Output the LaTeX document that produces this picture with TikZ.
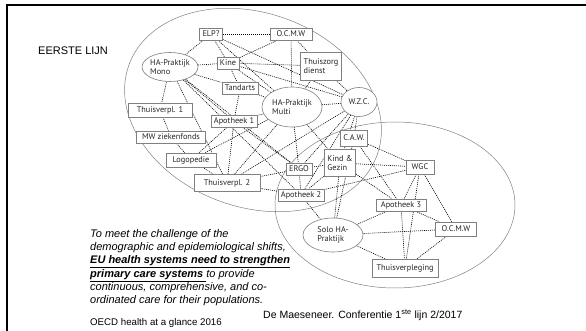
\documentclass[tikz,border=0pt]{standalone}
\usepackage{fontspec}
\setmainfont{Liberation Sans}
\newfontfamily\boxfont{PT Sans}
\usetikzlibrary{shapes.geometric,backgrounds}

\begin{document}
\begin{tikzpicture}[x=1pt, y=-1pt,
        box/.style={rectangle, draw=gray, line width=0.6pt, fill=white, text=black!85, font=\boxfont\fontsize{8.3}{9.5}\selectfont, inner xsep=3pt, inner ysep=2pt, minimum height=12pt},
        oval/.style={ellipse, draw=gray, line width=0.6pt, fill=white, text=black!85, font=\boxfont\fontsize{8.3}{9.5}\selectfont, inner sep=0pt, align=left},
        link/.style={line width=0.6pt, dash pattern=on 1pt off 1pt},
        zone/.style={draw=gray, line width=0.5pt}]
        \useasboundingbox (0,0) rectangle (586,331);
        \draw[line width=2pt] (7,331) -- (7,5) -- (586,5);

        \node[anchor=west, inner sep=0pt, font=\fontsize{11}{13}\selectfont] (title) at (38,51) {EERSTE LIJN};

        \node[box] (1) at (211,34) {ELP?};
        \node[box, minimum width=42pt] (2) at (291,34) {O.C.M.W};
        \node[oval, minimum width=55pt, minimum height=29pt] (3) at (170,67) {HA-Praktijk\\Mono};
        \node[box] (4) at (228,63) {Kine};
        \node[box, align=left, minimum height=28pt] (5) at (321,66) {Thuiszorg\\dienst};
        \node[box] (6) at (240,88) {Tandarts};
        \node[oval, minimum width=60pt, minimum height=40pt] (7) at (292,107) {HA-Praktijk\\Multi};
        \node[oval, minimum width=36pt, minimum height=29pt] (8) at (359,102) {W.Z.C.};
        \node[box, minimum width=64pt, minimum height=14pt] (9) at (160,110) {Thuisverpl. 1};
        \node[box] (10) at (234,121) {Apotheek 1};
        \node[box, minimum width=69pt] (11) at (171,137) {MW ziekenfonds};
        \node[box, minimum width=50pt, minimum height=14pt] (12) at (191,160) {Logopedie};
        \node[box, minimum width=66pt, minimum height=17pt] (13) at (227,183) {Thuisverpl. 2};
        \node[box, minimum height=16pt] (14) at (354,138) {C.A.W.};
        \node[box] (15) at (299,169) {ERGO};
        \node[box, align=left, minimum height=27pt] (16) at (340,163) {Kind \&\\Gezin};
        \node[box] (17) at (301,195) {Apotheek 2};
        \node[box, minimum width=28pt, minimum height=14pt] (18) at (420,167) {WGC};
        \node[box, minimum width=50pt] (19) at (401,205) {Apotheek 3};
        \node[box, minimum width=41pt, minimum height=14pt] (20) at (456,229) {O.C.M.W};
        \node[oval, minimum width=60pt, minimum height=34pt] (21) at (333,235) {Solo HA-\\Praktijk};
        \node[box, minimum width=66pt, minimum height=18pt] (22) at (405,268) {Thuisverpleging};

        \node[anchor=north west, inner sep=0pt, align=left, font=\itshape\fontsize{11}{13.3}\selectfont] (quote) at (90,229)
            {To meet the challenge of the\\
             demographic and epidemiological shifts,\\
             \underline{\textbf{EU health systems need to strengthen}}\\
             \underline{\textbf{primary care systems }}to provide\\
             continuous, comprehensive, and co-\\
             ordinated care for their populations.};
        \node[anchor=west, inner sep=0pt, font=\fontsize{9.7}{12}\selectfont] (source) at (90,323) {OECD health at a glance 2016};
        \node[anchor=west, inner sep=0pt, font=\fontsize{10.5}{12}\selectfont] (credit) at (263,315) {De Maeseneer. Conferentie 1\textsuperscript{ste} lijn 2/2017};

        \begin{pgfonlayer}{background}
            \draw[zone, rotate around={-20:(253,110)}] (253,110) ellipse [x radius=132, y radius=97];
            \draw[zone] (395,205) ellipse [x radius=120, y radius=83];

            \path[link] (1) edge (2) edge (3) edge (4) edge (7) edge (8);
            \path[link] (2) edge (4) edge (5) edge (7);
            \path[link] (3) edge (4) edge (6) edge (9) edge (10) edge (13) edge (15) edge (17);
            \path[link] (4) edge (5) edge (6) edge (7) edge (8);
            \path[link] (5) edge (7) edge (8);
            \path[link] (6) edge (7) edge (10);
            \path[link] (7) edge (8) edge (10) edge (12) edge (13) edge (15) edge (16);
            \path[link] (8) edge (13) edge (14) edge (15) edge (16) edge (17);
            \path[link] (9) edge (11);
            \path[link] (11) edge (12);
            \path[link] (12) edge (10) edge (13);
            \path[link] (10) edge (13) edge (15);
            \path[link] (13) edge (15) edge (17);
            \path[link] (14) edge (18) edge (19) edge (21);
            \path[link] (15) edge (16) edge (17);
            \path[link] (16) edge (17) edge (18) edge (19) edge (21);
            \path[link] (17) edge (18) edge (21);
            \path[link] (18) edge (19) edge (20) edge (22);
            \path[link] (19) edge (20) edge (21) edge (22);
            \path[link] (20) edge (21) edge (22);
            \path[link] (21) edge (22);
        \end{pgfonlayer}
    \end{tikzpicture}
\end{document}
